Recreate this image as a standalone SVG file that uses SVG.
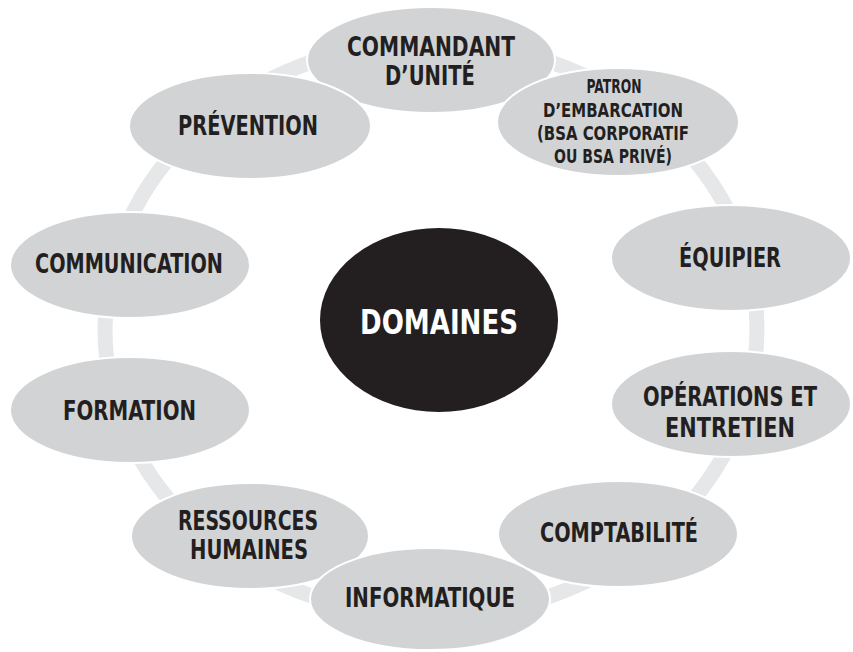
<svg xmlns="http://www.w3.org/2000/svg" width="853" height="652" viewBox="0 0 853 652">
<style>
.node{fill:#d1d3d4;stroke:#ffffff;stroke-width:2}
.lbl{font-family:"Liberation Sans Narrow","DejaVu Sans Condensed","Liberation Sans",sans-serif;font-weight:bold;font-size:26px;fill:#231f20;text-anchor:middle}
.sm{font-size:20px}
.ring{fill:none;stroke:#e6e7e8;stroke-width:15}
</style>
<rect width="853" height="652" fill="#ffffff"/>
<g id="connectors">
<ellipse class="ring" cx="431" cy="329" rx="326" ry="287"/>
</g>
<g id="commandant">
<ellipse class="node" cx="431" cy="60" rx="124" ry="53"/>
<text class="lbl" x="431" y="56" textLength="168" lengthAdjust="spacingAndGlyphs">COMMANDANT</text>
<text class="lbl" x="430" y="85" textLength="90" lengthAdjust="spacingAndGlyphs">D’UNITÉ</text>
</g>
<g id="prevention">
<ellipse class="node" cx="250" cy="126" rx="121" ry="53"/>
<text class="lbl" x="248" y="135" textLength="140" lengthAdjust="spacingAndGlyphs">PRÉVENTION</text>
</g>
<g id="patron">
<ellipse class="node" cx="618" cy="122" rx="121" ry="54"/>
<text class="lbl sm" x="614" y="93" textLength="55" lengthAdjust="spacingAndGlyphs">PATRON</text>
<text class="lbl sm" x="613" y="117" textLength="140" lengthAdjust="spacingAndGlyphs">D’EMBARCATION</text>
<text class="lbl sm" x="613" y="140" textLength="152" lengthAdjust="spacingAndGlyphs">(BSA CORPORATIF</text>
<text class="lbl sm" x="613" y="163" textLength="118" lengthAdjust="spacingAndGlyphs">OU BSA PRIVÉ)</text>
</g>
<g id="communication">
<ellipse class="node" cx="130" cy="265" rx="120" ry="53"/>
<text class="lbl" x="129" y="273" textLength="188" lengthAdjust="spacingAndGlyphs">COMMUNICATION</text>
</g>
<g id="equipier">
<ellipse class="node" cx="731" cy="258" rx="120" ry="53"/>
<text class="lbl" x="730" y="267" textLength="102" lengthAdjust="spacingAndGlyphs">ÉQUIPIER</text>
</g>
<g id="formation">
<ellipse class="node" cx="130" cy="410" rx="120" ry="53"/>
<text class="lbl" x="129.5" y="420" textLength="133" lengthAdjust="spacingAndGlyphs">FORMATION</text>
</g>
<g id="operations">
<ellipse class="node" cx="731" cy="404" rx="120" ry="53"/>
<text class="lbl" x="730" y="406" textLength="174" lengthAdjust="spacingAndGlyphs">OPÉRATIONS ET</text>
<text class="lbl" x="730" y="437" textLength="130" lengthAdjust="spacingAndGlyphs">ENTRETIEN</text>
</g>
<g id="ressources">
<ellipse class="node" cx="250" cy="536" rx="119" ry="53"/>
<text class="lbl" x="248" y="530" textLength="140" lengthAdjust="spacingAndGlyphs">RESSOURCES</text>
<text class="lbl" x="249" y="559" textLength="118" lengthAdjust="spacingAndGlyphs">HUMAINES</text>
</g>
<g id="comptabilite">
<ellipse class="node" cx="618" cy="534" rx="120" ry="53"/>
<text class="lbl" x="619" y="542" textLength="158" lengthAdjust="spacingAndGlyphs">COMPTABILITÉ</text>
</g>
<g id="informatique">
<ellipse class="node" cx="430" cy="599" rx="120" ry="51"/>
<text class="lbl" x="430" y="607" textLength="170" lengthAdjust="spacingAndGlyphs">INFORMATIQUE</text>
</g>
<g id="domaines">
<ellipse cx="439" cy="320" rx="119" ry="92" fill="#231f20"/>
<text class="lbl" x="439" y="334" style="font-size:34px;fill:#ffffff" textLength="158" lengthAdjust="spacingAndGlyphs">DOMAINES</text>
</g>
</svg>
